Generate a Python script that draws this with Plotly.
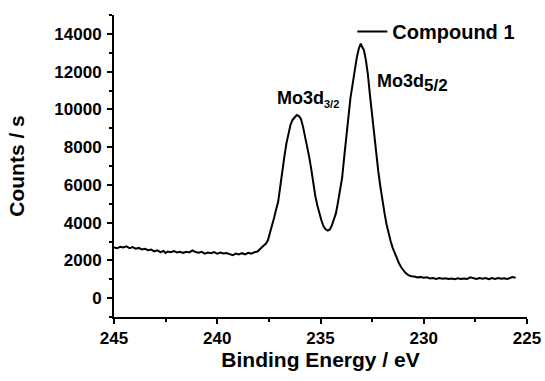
import plotly.graph_objects as go

# Binding energy (eV) and counts/s
binding_energy = [
    245.0, 244.85, 244.7, 244.55, 244.4, 244.25, 244.1, 243.95, 243.8, 243.65,
    243.5, 243.35, 243.2, 243.05, 242.9, 242.75, 242.6, 242.5, 242.4, 242.25,
    242.1, 241.95, 241.8, 241.65, 241.5, 241.35, 241.2, 241.05, 240.9, 240.75,
    240.6, 240.45, 240.3, 240.15, 240.0, 239.85, 239.7, 239.55, 239.4, 239.25,
    239.1, 238.95, 238.8, 238.65, 238.5, 238.35, 238.2, 238.05, 237.95, 237.85,
    237.75, 237.65, 237.55, 237.45, 237.35, 237.25, 237.15, 237.05, 236.95, 236.85,
    236.75, 236.65, 236.55, 236.45, 236.35, 236.25, 236.15, 236.05, 235.95, 235.85,
    235.75, 235.65, 235.55, 235.45, 235.35, 235.25, 235.15, 235.05, 234.95, 234.85,
    234.75, 234.65, 234.55, 234.45, 234.35, 234.25, 234.15, 234.05, 233.95, 233.85,
    233.75, 233.65, 233.55, 233.45, 233.35, 233.25, 233.15, 233.05, 232.98, 232.9,
    232.8, 232.7, 232.6, 232.5, 232.4, 232.3, 232.2, 232.1, 232.0, 231.9,
    231.8, 231.7, 231.6, 231.5, 231.4, 231.3, 231.2, 231.1, 231.0, 230.9,
    230.75, 230.6, 230.45, 230.3, 230.15, 230.0, 229.85, 229.7, 229.55, 229.4,
    229.25, 229.1, 228.95, 228.8, 228.65, 228.5, 228.35, 228.2, 228.05, 227.9,
    227.75, 227.6, 227.45, 227.3, 227.15, 227.0, 226.85, 226.7, 226.55, 226.4,
    226.25, 226.1, 225.95, 225.8, 225.7, 225.55,
]
counts = [
    2690, 2640, 2720, 2680, 2740, 2650, 2700, 2620, 2660, 2580,
    2610, 2540, 2570, 2480, 2530, 2440, 2500, 2390, 2470, 2430,
    2490, 2420, 2460, 2400, 2450, 2420, 2530, 2440, 2400, 2450,
    2360, 2420, 2380, 2440, 2350, 2410, 2360, 2390, 2330, 2270,
    2360, 2310, 2380, 2320, 2400, 2360, 2430, 2470, 2580, 2700,
    2790, 2880, 3050, 3450, 3800, 4250, 4700, 5100, 5900, 6800,
    7500, 8200, 8750, 9200, 9450, 9600, 9700, 9650, 9500, 9100,
    8600, 8100, 7500, 6850, 6100, 5400, 4900, 4450, 4100, 3800,
    3650, 3580, 3640, 3850, 4150, 4500, 5100, 5700, 6400, 7500,
    8600, 9700, 10600, 11300, 12100, 12700, 13200, 13480, 13300, 13150,
    12600, 11800, 10700, 9600, 8650, 7600, 6700, 5900, 5100, 4500,
    3900, 3400, 3000, 2650, 2350, 2100, 1850, 1650, 1500, 1350,
    1220, 1160, 1150, 1100, 1120, 1080, 1110, 1040, 1070, 1020,
    1060, 1030, 1050, 1010, 1040, 1000, 1050, 1020, 1040, 1010,
    1100, 1060, 1020, 1070, 1030, 1060, 1000, 1060, 1020, 1070,
    1030, 1050, 1010, 1080, 1120, 1080,
]

series_name = "Compound 1"
x_ticks = [245, 240, 235, 230, 225]
y_ticks = [0, 2000, 4000, 6000, 8000, 10000, 12000, 14000]

FONT = "Liberation Sans, Arial, sans-serif"

fig = go.Figure()
fig.add_trace(go.Scatter(
    x=binding_energy, y=counts, mode="lines", name=series_name,
    line=dict(color="black", width=2),
))

axis_common = dict(
    showline=True, linecolor="black", linewidth=2,
    ticks="outside", ticklen=5, tickwidth=2, tickcolor="black",
    showgrid=False, zeroline=False, mirror=False, automargin=False,
    tickfont=dict(family=FONT, size=17, color="black", weight="bold"),
)

fig.update_layout(
    width=545, height=381,
    margin=dict(l=114, r=18, t=12, b=64),
    paper_bgcolor="white", plot_bgcolor="white",
    font=dict(family=FONT, color="black"),
    showlegend=True,
    legend=dict(
        x=0.577, y=1.01, xanchor="left", yanchor="top",
        bgcolor="rgba(0,0,0,0)", borderwidth=0,
        font=dict(family=FONT, size=20, color="black", weight="bold"),
        itemwidth=30,
    ),
    xaxis=dict(
        range=[245, 225], tickvals=x_ticks, ticktext=[str(v) for v in x_ticks],
        ticklabelstandoff=0,
        minor=dict(dtick=2.5, ticklen=3, tickwidth=1.5, tickcolor="black", ticks="outside", showgrid=False),
        title=dict(text="Binding Energy / eV", standoff=5,
                   font=dict(family=FONT, size=21, color="black", weight="bold")),
        **axis_common,
    ),
    yaxis=dict(
        range=[-1000, 15000], tickvals=y_ticks, ticktext=[str(v) for v in y_ticks],
        ticklabelstandoff=2,
        minor=dict(dtick=1000, ticklen=3, tickwidth=1.5, tickcolor="black", ticks="outside", showgrid=False),
        title=dict(text="Counts / s", standoff=24,
                   font=dict(family=FONT, size=21, color="black", weight="bold")),
        **axis_common,
    ),
)

fig.add_annotation(
    x=237.21, y=10560, xref="x", yref="y", xanchor="left", yanchor="middle",
    text="Mo3d<sub><span style='font-size:11px'>3/2</span></sub>", showarrow=False,
    font=dict(family=FONT, size=18, color="black", weight="bold"),
)
fig.add_annotation(
    x=232.35, y=11380, xref="x", yref="y", xanchor="left", yanchor="middle",
    text="Mo3d<sub><span style='font-size:17px'>5/2</span></sub>", showarrow=False,
    font=dict(family=FONT, size=18, color="black", weight="bold"),
)

# remove the default page margin so the figure sits at the window's origin
fig.write_html(
    "out.html",
    config={"displayModeBar": False},
    post_script="document.body.style.margin='0';document.body.style.overflow='hidden';",
)
